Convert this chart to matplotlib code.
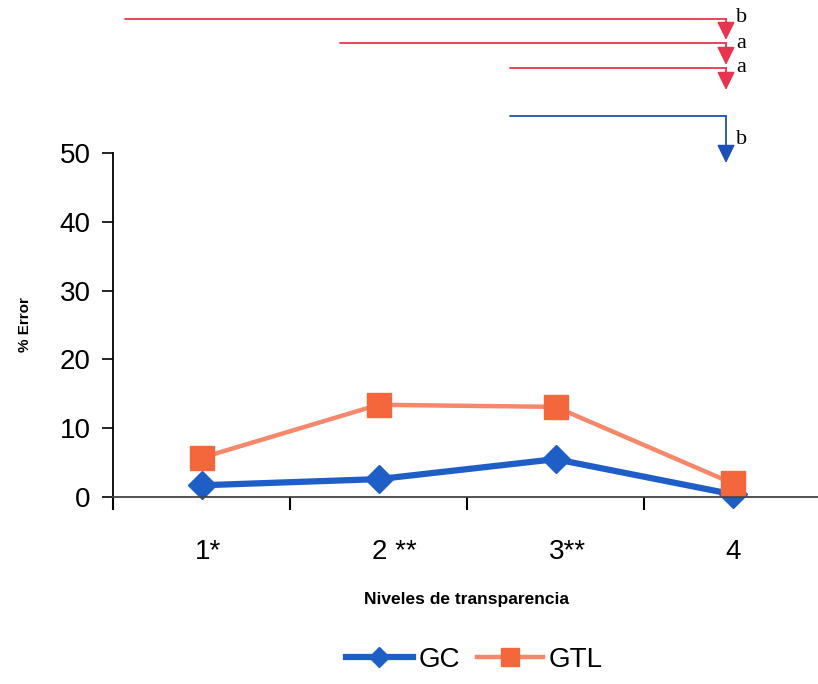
import numpy as np
import matplotlib
matplotlib.use("Agg")
import matplotlib.pyplot as plt
import matplotlib.transforms as mtransforms

# error (%) per transparency level
niveles = [1, 2, 3, 4]
etiquetas = ["1*", "2 **", "3**", "4"]
gc_error = [1.7, 2.6, 5.5, 0.4]
gtl_error = [5.7, 13.4, 13.1, 2.0]

plt.rcParams['font.family'] = ['Liberation Sans', 'DejaVu Sans']

fig = plt.figure(figsize=(8.18, 6.84), dpi=100)
fig.set_facecolor("#ffffff")
ax = fig.add_axes([113 / 818, 187 / 684, 708 / 818, 344 / 684])

ax.plot(niveles, gtl_error, color="#f5876a", lw=3.2, marker="s", ms=17,
        mfc="#f4673c", mec="#f4673c", label="GTL", zorder=3, clip_on=False)
ax.plot(niveles, gc_error, color="#1f5ec6", lw=4.5, marker="D", ms=14,
        mfc="#1f5ec6", mec="#1f5ec6", label="GC", zorder=2, clip_on=False)

ax.set_xlim(0.5, 4.5)
ax.set_ylim(0, 50)
ax.set_yticks(np.arange(0, 51, 10))
ax.tick_params(axis="y", labelsize=20, length=8, width=1.2, pad=8)

# category boundaries carry the x ticks, labels sit on the centres
ax.set_xticks([0.5, 1.5, 2.5, 3.5, 4.5])
ax.set_xticklabels([])
ax.tick_params(axis="x", length=9, width=1.5, direction="out")
ax.set_xticks(niveles, minor=True)
ax.set_xticklabels(etiquetas, minor=True, ha="left", fontsize=20)
ax.tick_params(axis="x", which="minor", length=0, pad=30)
shift = mtransforms.ScaledTranslation(-5 / 72, 0, fig.dpi_scale_trans)
for lab in ax.get_xticklabels(minor=True):
    lab.set_transform(lab.get_transform() + shift)

for s in ["top", "right"]:
    ax.spines[s].set_visible(False)
ax.spines["left"].set_linewidth(1.3)
ax.spines["bottom"].set_linewidth(1.3)
ax.spines["bottom"].set_color("#444444")

ax.set_ylabel("% Error", fontsize=11, fontweight="bold", labelpad=20)
ax.set_xlabel("Niveles de transparencia", fontsize=12.5, fontweight="bold", labelpad=20)

handles, labels = ax.get_legend_handles_labels()
fig.legend(handles[::-1], labels[::-1], loc="center", bbox_to_anchor=(0.58, 0.035),
           ncol=2, frameon=False, fontsize=20, handlelength=2.4, columnspacing=0.6,
           handletextpad=0.2, markerscale=0.75)

# significance brackets above the plot
H = 684
red = "#e8344c"
blue = "#1d4fb8"
brackets = [(125, 19, 40, red, "b", 18),
            (340, 43, 65, red, "a", 43),
            (510, 68, 90, red, "a", 67),
            (510, 116, 163, blue, "b", 140)]
for x0, y0, ytip, col, letra, yl in brackets:
    ax.annotate("", xy=(726, H - y0), xytext=(x0, H - y0), xycoords="figure pixels",
                textcoords="figure pixels",
                arrowprops=dict(arrowstyle="-", color=col, lw=1.3, shrinkA=0, shrinkB=0))
    ax.annotate("", xy=(726, H - ytip), xytext=(726, H - y0), xycoords="figure pixels",
                textcoords="figure pixels",
                arrowprops=dict(arrowstyle="-|>,head_length=0.55,head_width=0.27",
                                mutation_scale=20, color=col, lw=1.3,
                                shrinkA=0, shrinkB=0))
    fig.text(736 / 818, 1 - yl / H, letra, fontsize=16, family="Liberation Serif",
             ha="left", va="center")

plt.savefig("out.png", dpi=100)
